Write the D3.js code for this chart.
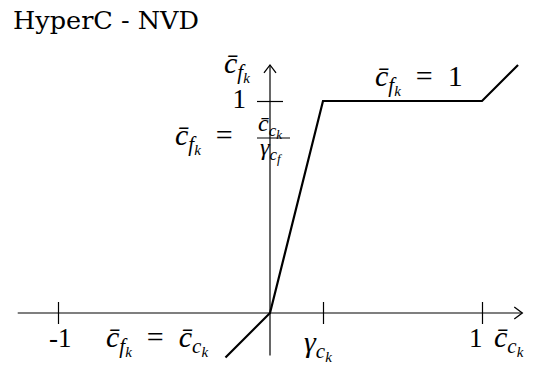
<!DOCTYPE html>
<html>
<head>
<meta charset="utf-8">
<script src="https://cdn.jsdelivr.net/npm/d3@7"></script>
<style>
  body { margin: 0; background: #fff; }
  text { font-family: "DejaVu Serif", serif; fill: #000; }
  .math { font-family: "Liberation Serif", serif; font-style: italic; }
  .up { font-family: "Liberation Serif", serif; }
</style>
</head>
<body>
<svg id="chart" width="533" height="369"></svg>
<script>
// HyperC limiter in the normalised variable diagram
const gamma = 0.25;
const curveX = [-0.21, 0, gamma, 1, 1.17];
const curveY = [-0.21, 0, 1, 1, 1.17];
const xTicks = [-1, gamma, 1];
const yTicks = [1];

const svg = d3.select("#chart");

// same unit length on both axes
const x = d3.scaleLinear().domain([0, 1]).range([270, 482]);
const y = d3.scaleLinear().domain([0, 1]).range([313, 101]);

// Open arrowhead like tikz "->"
svg.append("defs").append("marker")
    .attr("id", "arrow")
    .attr("viewBox", "-10 -7 12 14")
    .attr("refX", 0)
    .attr("refY", 0)
    .attr("markerUnits", "userSpaceOnUse")
    .attr("markerWidth", 12)
    .attr("markerHeight", 14)
    .attr("orient", "auto")
    .append("path")
    .attr("d", "M-8,-6 L0,0 L-8,6")
    .attr("fill", "none")
    .attr("stroke", "#000")
    .attr("stroke-width", 1.3);

// Title
svg.append("text")
    .attr("x", 13)
    .attr("y", 29)
    .attr("font-size", 24)
    .attr("textLength", 186)
    .attr("lengthAdjust", "spacingAndGlyphs")
    .text("HyperC - NVD");

// Axes lines
svg.append("line")
    .attr("x1", x(-1.19)).attr("x2", x(1.19))
    .attr("y1", y(0)).attr("y2", y(0))
    .attr("stroke", "#000").attr("stroke-width", 1.2)
    .attr("marker-end", "url(#arrow)");

svg.append("line")
    .attr("x1", x(0)).attr("x2", x(0))
    .attr("y1", y(-0.2)).attr("y2", y(1.17))
    .attr("stroke", "#000").attr("stroke-width", 1.2)
    .attr("marker-end", "url(#arrow)");

// Ticks crossing the axes
const xAxis = svg.append("g")
    .attr("transform", `translate(0,${y(0)})`)
    .call(d3.axisBottom(x).tickValues(xTicks).tickSize(0).tickFormat(""));
xAxis.select(".domain").remove();
xAxis.selectAll(".tick line")
    .attr("y1", -11).attr("y2", 11)
    .attr("stroke", "#000").attr("stroke-width", 1.2);

const yAxis = svg.append("g")
    .attr("transform", `translate(${x(0)},0)`)
    .call(d3.axisLeft(y).tickValues(yTicks).tickSize(0).tickFormat(""));
yAxis.select(".domain").remove();
yAxis.selectAll(".tick line")
    .attr("x1", -13).attr("x2", 13)
    .attr("stroke", "#000").attr("stroke-width", 1.2);

// The limiter curve
const line = d3.line()
    .x((d, i) => x(curveX[i]))
    .y(d => y(d));

svg.append("path")
    .datum(curveY)
    .attr("d", line)
    .attr("fill", "none")
    .attr("stroke", "#000")
    .attr("stroke-width", 2.2)
    .attr("stroke-linejoin", "miter");

// Math text: pieces are [text, level, upright], level 0 base, 1 subscript, 2 sub-subscript
const sizes = [30, 21, 15];
const drops = [0, 6, 10];
// smaller set for numerator / denominator of a fraction
const fracSizes = [24, 17, 13];
const fracDrops = [0, 5, 8];
function mathText(px, py, pieces, sz = sizes, dr = drops) {
    const t = svg.append("text").attr("x", px).attr("y", py);
    pieces.forEach(([s, l, upright]) => {
        t.append("tspan")
            .attr("class", upright ? "up" : "math")
            .attr("y", py + dr[l])
            .attr("font-size", sz[l])
            .text(s);
    });
    return t;
}

const cf = [["c\u0304", 0], ["f", 1], ["k", 2]];
const cc = [["c\u0304", 0], ["c", 1], ["k", 2]];
const eq = [["\u2002=\u2002", 0, true]];

// y axis label and tick label
mathText(224, 73, cf);
svg.append("text").attr("class", "up").attr("x", 246).attr("y", 108).attr("font-size", 27)
    .attr("text-anchor", "end").text(yTicks[0]);

// c_f = c_c / gamma label
mathText(175, 145, [...cf, ...eq]);
mathText(258, 131, cc, fracSizes, fracDrops);
svg.append("line")
    .attr("x1", 257).attr("x2", 290).attr("y1", 138).attr("y2", 138)
    .attr("stroke", "#000").attr("stroke-width", 1);
mathText(260, 155, [["\u03b3", 0], ["c", 1], ["f", 2]], fracSizes, fracDrops);

// upper plateau label
mathText(375, 86, [...cf, ...eq, ["1", 0, true]]);

// x tick labels
svg.append("text").attr("class", "up").attr("x", 49).attr("y", 347).attr("font-size", 27).text("-1");
mathText(304, 352, [["\u03b3", 0], ["c", 1], ["k", 2]]);
svg.append("text").attr("class", "up").attr("x", 469).attr("y", 347).attr("font-size", 27).text("1");
mathText(494, 347, cc);

// lower branch label
mathText(106, 347, [...cf, ...eq, ...cc]);
</script>
</body>
</html>
